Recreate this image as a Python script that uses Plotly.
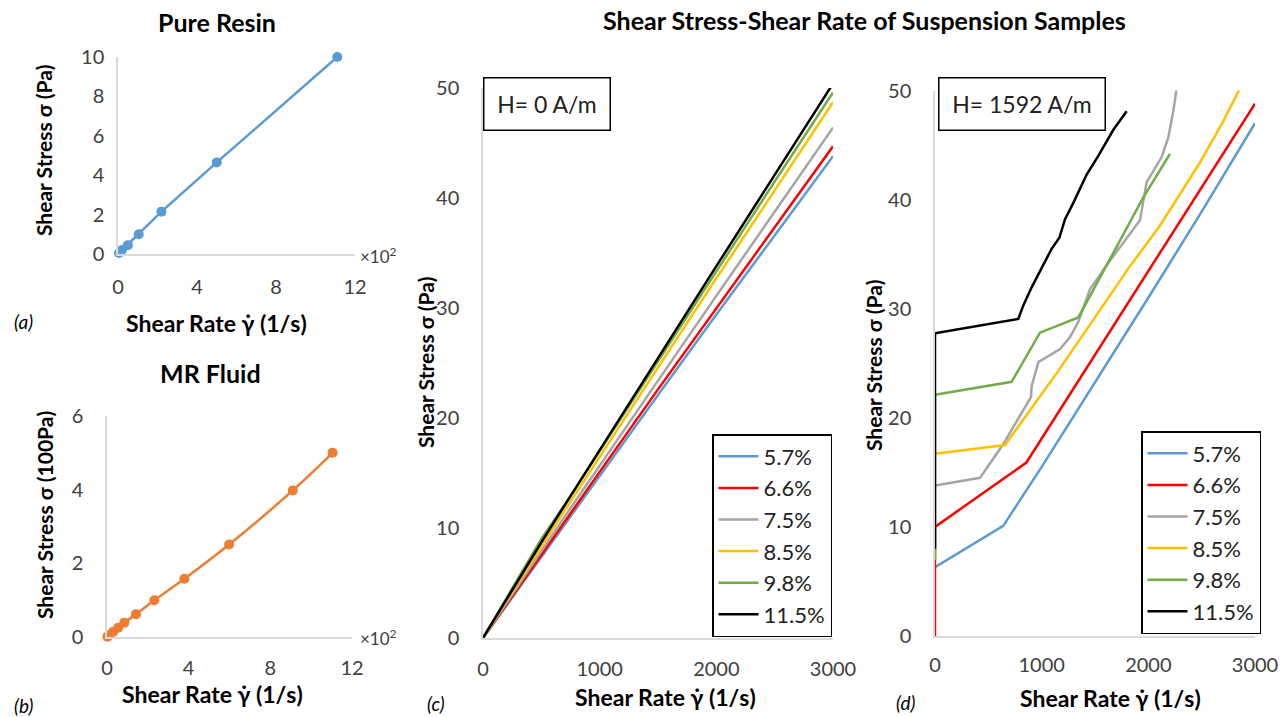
import plotly.graph_objects as go

W, H = 1286, 717

# ---------------- data ----------------
resin_rate = [0.05, 0.2, 0.5, 1.05, 2.2, 5.0, 11.1]          # x 10^2 1/s
resin_stress = [0.05, 0.2, 0.45, 1.0, 2.15, 4.65, 10.0]      # Pa

mr_rate = [0.02, 0.1, 0.3, 0.55, 0.85, 1.42, 2.32, 3.79, 5.98, 9.1, 11.05]   # x 10^2 1/s
mr_stress = [0.01, 0.05, 0.14, 0.25, 0.39, 0.62, 1.0, 1.58, 2.51, 3.98, 5.0]  # 100 Pa

series_names = ["5.7%", "6.6%", "7.5%", "8.5%", "9.8%", "11.5%"]
series_colors = ["#5b9bd5", "#ff0000", "#a5a5a5", "#ffc000", "#70ad47", "#000000"]

# (c) H = 0 A/m
c_rate = [0, 250, 500, 750, 1000, 1500, 2000, 2500, 3000]
c_57 = [0, 3.7, 7.4, 11.1, 14.8, 22.1, 29.4, 36.6, 43.8]
c_66 = [0, 3.8, 7.6, 11.4, 15.1, 22.6, 30.0, 37.4, 44.7]
c_75 = [0, 4.0, 7.9, 11.8, 15.7, 23.4, 31.1, 38.8, 46.4]
c_85 = [0, 4.2, 8.3, 12.4, 16.5, 24.6, 32.7, 40.7, 48.7]
c_98 = [0, 4.5, 9.0, 12.9, 17.0, 25.2, 33.4, 41.5, 49.6]
c_115 = [0, 4.4, 8.7, 12.9, 17.1, 25.5, 33.8, 42.1, 50.4]

# (d) H = 1592 A/m
d_57_x = [0, 640, 1000, 1500, 2000, 2500, 3000]
d_57_y = [6.3, 10.1, 15.5, 23.2, 31.0, 38.9, 47.0]
d_66_x = [0, 0, 857, 1500, 2000, 2500, 3000]
d_66_y = [0, 10.0, 15.9, 25.8, 33.4, 41.1, 48.8]
d_75_x = [0, 422, 641, 900, 906, 969, 1172, 1266, 1344, 1453, 1640, 1766, 1922,
          1984, 2047, 2125, 2187, 2234, 2270]
d_75_y = [13.8, 14.5, 17.6, 21.9, 22.9, 25.1, 26.3, 27.4, 28.8, 31.8, 34.4, 36.1, 38.1,
          41.6, 42.6, 43.9, 45.7, 48.1, 50.5]
d_85_x = [0, 656, 1156, 1500, 1828, 2109, 2484, 2703, 2900]
d_85_y = [16.7, 17.5, 24.3, 29.2, 33.9, 37.6, 43.4, 47.2, 51.0]
d_98_x = [0, 0, 718, 984, 1344, 1734, 1953, 2203]
d_98_y = [7.0, 22.1, 23.3, 27.8, 29.2, 36.2, 40.2, 44.2]
d_115_x = [0, 0, 781, 828, 906, 1000, 1094, 1166, 1219, 1297, 1422, 1531, 1672, 1797]
d_115_y = [8.0, 27.75, 29.07, 30.3, 31.96, 33.8, 35.5, 36.5, 38.2, 39.7, 42.3, 44.0, 46.4, 48.1]

ticks_a_x = [0, 4, 8, 12]
ticks_a_y = [0, 2, 4, 6, 8, 10]
ticks_b_y = [0, 2, 4, 6]
ticks_cd_x = [0, 1000, 2000, 3000]
ticks_cd_y = [0, 10, 20, 30, 40, 50]

# ---------------- helpers ----------------
FONT = "Lato"
TICK_COLOR = "#404040"
AXIS_COLOR = "#d9d9d9"


def px_x(p):
    return p / W


def px_y(p):
    return 1 - p / H


fig = go.Figure()

# (a)
fig.add_trace(go.Scatter(x=resin_rate, y=resin_stress, mode="lines+markers",
                         line=dict(color="#5b9bd5", width=2.5),
                         marker=dict(size=10, color="#5b9bd5"),
                         cliponaxis=False, showlegend=False, xaxis="x", yaxis="y"))
# (b)
fig.add_trace(go.Scatter(x=mr_rate, y=mr_stress, mode="lines+markers",
                         line=dict(color="#ed7d31", width=2.5, shape="spline"),
                         marker=dict(size=10, color="#ed7d31"),
                         cliponaxis=False, showlegend=False, xaxis="x2", yaxis="y2"))

# (c)
for name, col, vals in zip(series_names, series_colors, [c_57, c_66, c_75, c_85, c_98, c_115]):
    fig.add_trace(go.Scatter(x=c_rate, y=vals, mode="lines", name=name,
                             line=dict(color=col, width=2.5),
                             legend="legend", xaxis="x3", yaxis="y3"))

# (d)
d_data = [(d_57_x, d_57_y), (d_66_x, d_66_y), (d_75_x, d_75_y),
          (d_85_x, d_85_y), (d_98_x, d_98_y), (d_115_x, d_115_y)]
for name, col, (xs, ys) in zip(series_names, series_colors, d_data):
    fig.add_trace(go.Scatter(x=xs, y=ys, mode="lines", name=name,
                             line=dict(color=col, width=2.5),
                             legend="legend2", xaxis="x4", yaxis="y4"))


def axis(domain_px, rng, tickvals, anchor, horizontal, standoff):
    if horizontal:
        dom = [px_x(domain_px[0]), px_x(domain_px[1])]
    else:
        dom = [px_y(domain_px[1]), px_y(domain_px[0])]
    return dict(domain=dom, range=rng, tickvals=tickvals, anchor=anchor,
                showline=True, linecolor=AXIS_COLOR, linewidth=1.5,
                showgrid=False, zeroline=False, ticks="",
                tickfont=dict(family=FONT, size=20, color=TICK_COLOR),
                ticklabelstandoff=standoff, fixedrange=True)


legend_common = dict(xanchor="right", yanchor="bottom", bgcolor="white",
                     bordercolor="black", borderwidth=1.5, itemwidth=40,
                     font=dict(family=FONT, size=22, color="#222"), tracegroupgap=0)

layout = dict(
    width=W, height=H, margin=dict(l=0, r=0, t=0, b=0, autoexpand=False),
    paper_bgcolor="white", plot_bgcolor="white",
    xaxis=axis([118, 355], [0, 12], ticks_a_x, "y", True, 14),
    yaxis=axis([57, 254], [0, 10], ticks_a_y, "x", False, 8),
    xaxis2=axis([107, 352], [0, 12], ticks_a_x, "y2", True, 12),
    yaxis2=axis([416, 637], [0, 6], ticks_b_y, "x2", False, 18),
    xaxis3=axis([483, 833], [0, 3000], ticks_cd_x, "y3", True, 12),
    yaxis3=axis([88, 638], [0, 50], ticks_cd_y, "x3", False, 18),
    xaxis4=axis([935, 1255], [0, 3000], ticks_cd_x, "y4", True, 10),
    yaxis4=axis([90.5, 636], [0, 50], ticks_cd_y, "x4", False, 18),
    legend=dict(x=px_x(832), y=px_y(637), **legend_common),
    legend2=dict(x=px_x(1261), y=px_y(634), **legend_common),
)
fig.update_layout(**layout)

ann = []


def text(x, y, s, size, bold=False, angle=0, italic=False, xanchor="center", color="black"):
    if bold:
        s = "<b>" + s + "</b>"
    if italic:
        s = "<i>" + s + "</i>"
    ann.append(dict(x=px_x(x), y=px_y(y), xref="paper", yref="paper", text=s,
                    showarrow=False, textangle=angle, xanchor=xanchor, yanchor="middle",
                    font=dict(family=FONT, size=size, color=color)))


gamma = "Shear Rate \u03b3\u0307 (1/s)"
text(217, 22, "Pure Resin", 25, bold=True)
text(210, 373, "MR Fluid", 25, bold=True)
text(864, 20, "Shear Stress-Shear Rate of Suspension Samples", 25, bold=True)

text(216, 323, gamma, 23, bold=True)
text(212, 694, gamma, 23, bold=True)
text(665, 697, gamma, 23, bold=True)
text(1110, 698, gamma, 23, bold=True)

text(43, 150, "Shear Stress \u03c3 (Pa)", 21, bold=True, angle=-90)
text(44, 515, "Shear Stress \u03c3 (100Pa)", 21, bold=True, angle=-90)
text(425, 362, "Shear Stress \u03c3 (Pa)", 21, bold=True, angle=-90)
text(873, 365, "Shear Stress \u03c3 (Pa)", 21, bold=True, angle=-90)

text(23, 322, "(a)", 19, italic=True)
text(23, 705, "(b)", 19, italic=True)
text(436, 703, "(c)", 19, italic=True)
text(905, 702, "(d)", 19, italic=True)

text(358, 255, "\u00d710<sup>2</sup>", 17, xanchor="left", color=TICK_COLOR)
text(358, 637, "\u00d710<sup>2</sup>", 17, xanchor="left", color=TICK_COLOR)

for x0, x1, s in [(483, 611, "H= 0 A/m"), (938, 1106, "H= 1592 A/m")]:
    ann.append(dict(x=px_x(x0), y=px_y(77), xref="paper", yref="paper", text=s,
                    showarrow=False, xanchor="left", yanchor="top",
                    width=x1 - x0 - 6, height=48, borderpad=1.5,
                    bgcolor="white", bordercolor="black", borderwidth=1.5,
                    font=dict(family=FONT, size=23, color="#222")))

fig.update_layout(annotations=ann)
fig.write_html("out.html",
               post_script="document.body.style.margin='0px';"
                           "document.documentElement.style.margin='0px';")
